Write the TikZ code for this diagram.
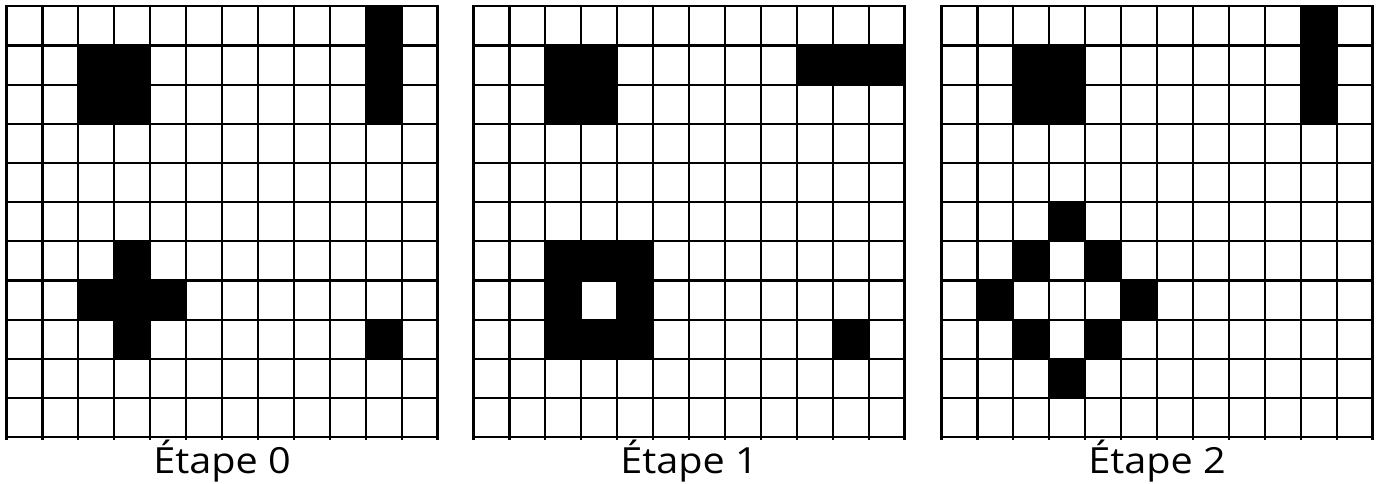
\documentclass[tikz,border=0pt]{standalone}
\usepackage{fontspec}
\newfontfamily\labfont[FakeStretch=1.1]{Open Sans}
\begin{document}
\begin{tikzpicture}[x=1pt,y=-1pt]
\tikzset{
  gridline/.style={line width=2.2pt,black,line cap=rect},
  cellfill/.style={fill=black},
  steplabel/.style={font=\labfont\fontsize{36}{40}\selectfont,anchor=base,inner sep=0pt}
}
\fill[white] (0,0) rectangle (1376,484);
\useasboundingbox (0,0) rectangle (1376,484);
\def\cw{35.92}
\def\ch{39.18}
\def\gy{6.3}
\newcommand\mycells[2]{%
  \foreach \c/\r in {#2} {\fill[cellfill] ({#1+\c*\cw},{\gy+\r*\ch}) rectangle ++(\cw,\ch);}}
\newcommand\mygrid[1]{%
  \foreach \i in {0,...,12} {\draw[gridline] ({#1+\i*\cw},\gy) -- ({#1+\i*\cw},{\gy+11*\ch+2});}
  \foreach \j in {0,...,11} {\draw[gridline] (#1,{\gy+\j*\ch}) -- ({#1+12*\cw},{\gy+\j*\ch});}}
% Etape 0
\mycells{6.5}{2/1,3/1,2/2,3/2,10/0,10/1,10/2,3/6,2/7,3/7,4/7,3/8,10/8}
\mygrid{6.5}
% Etape 1
\mycells{473.5}{2/1,3/1,2/2,3/2,9/1,10/1,11/1,2/6,3/6,4/6,2/7,4/7,2/8,3/8,4/8,10/8}
\mygrid{473.5}
% Etape 2
\mycells{941.5}{2/1,3/1,2/2,3/2,10/0,10/1,10/2,3/5,2/6,4/6,1/7,5/7,2/8,4/8,3/9}
\mygrid{941.5}
\node[steplabel] (l0) at ({6.5+6*\cw},473.3) {Étape 0};
\node[steplabel] (l1) at ({473.5+6*\cw},473.3) {Étape 1};
\node[steplabel] (l2) at ({941.5+6*\cw},473.3) {Étape 2};
\end{tikzpicture}
\end{document}
